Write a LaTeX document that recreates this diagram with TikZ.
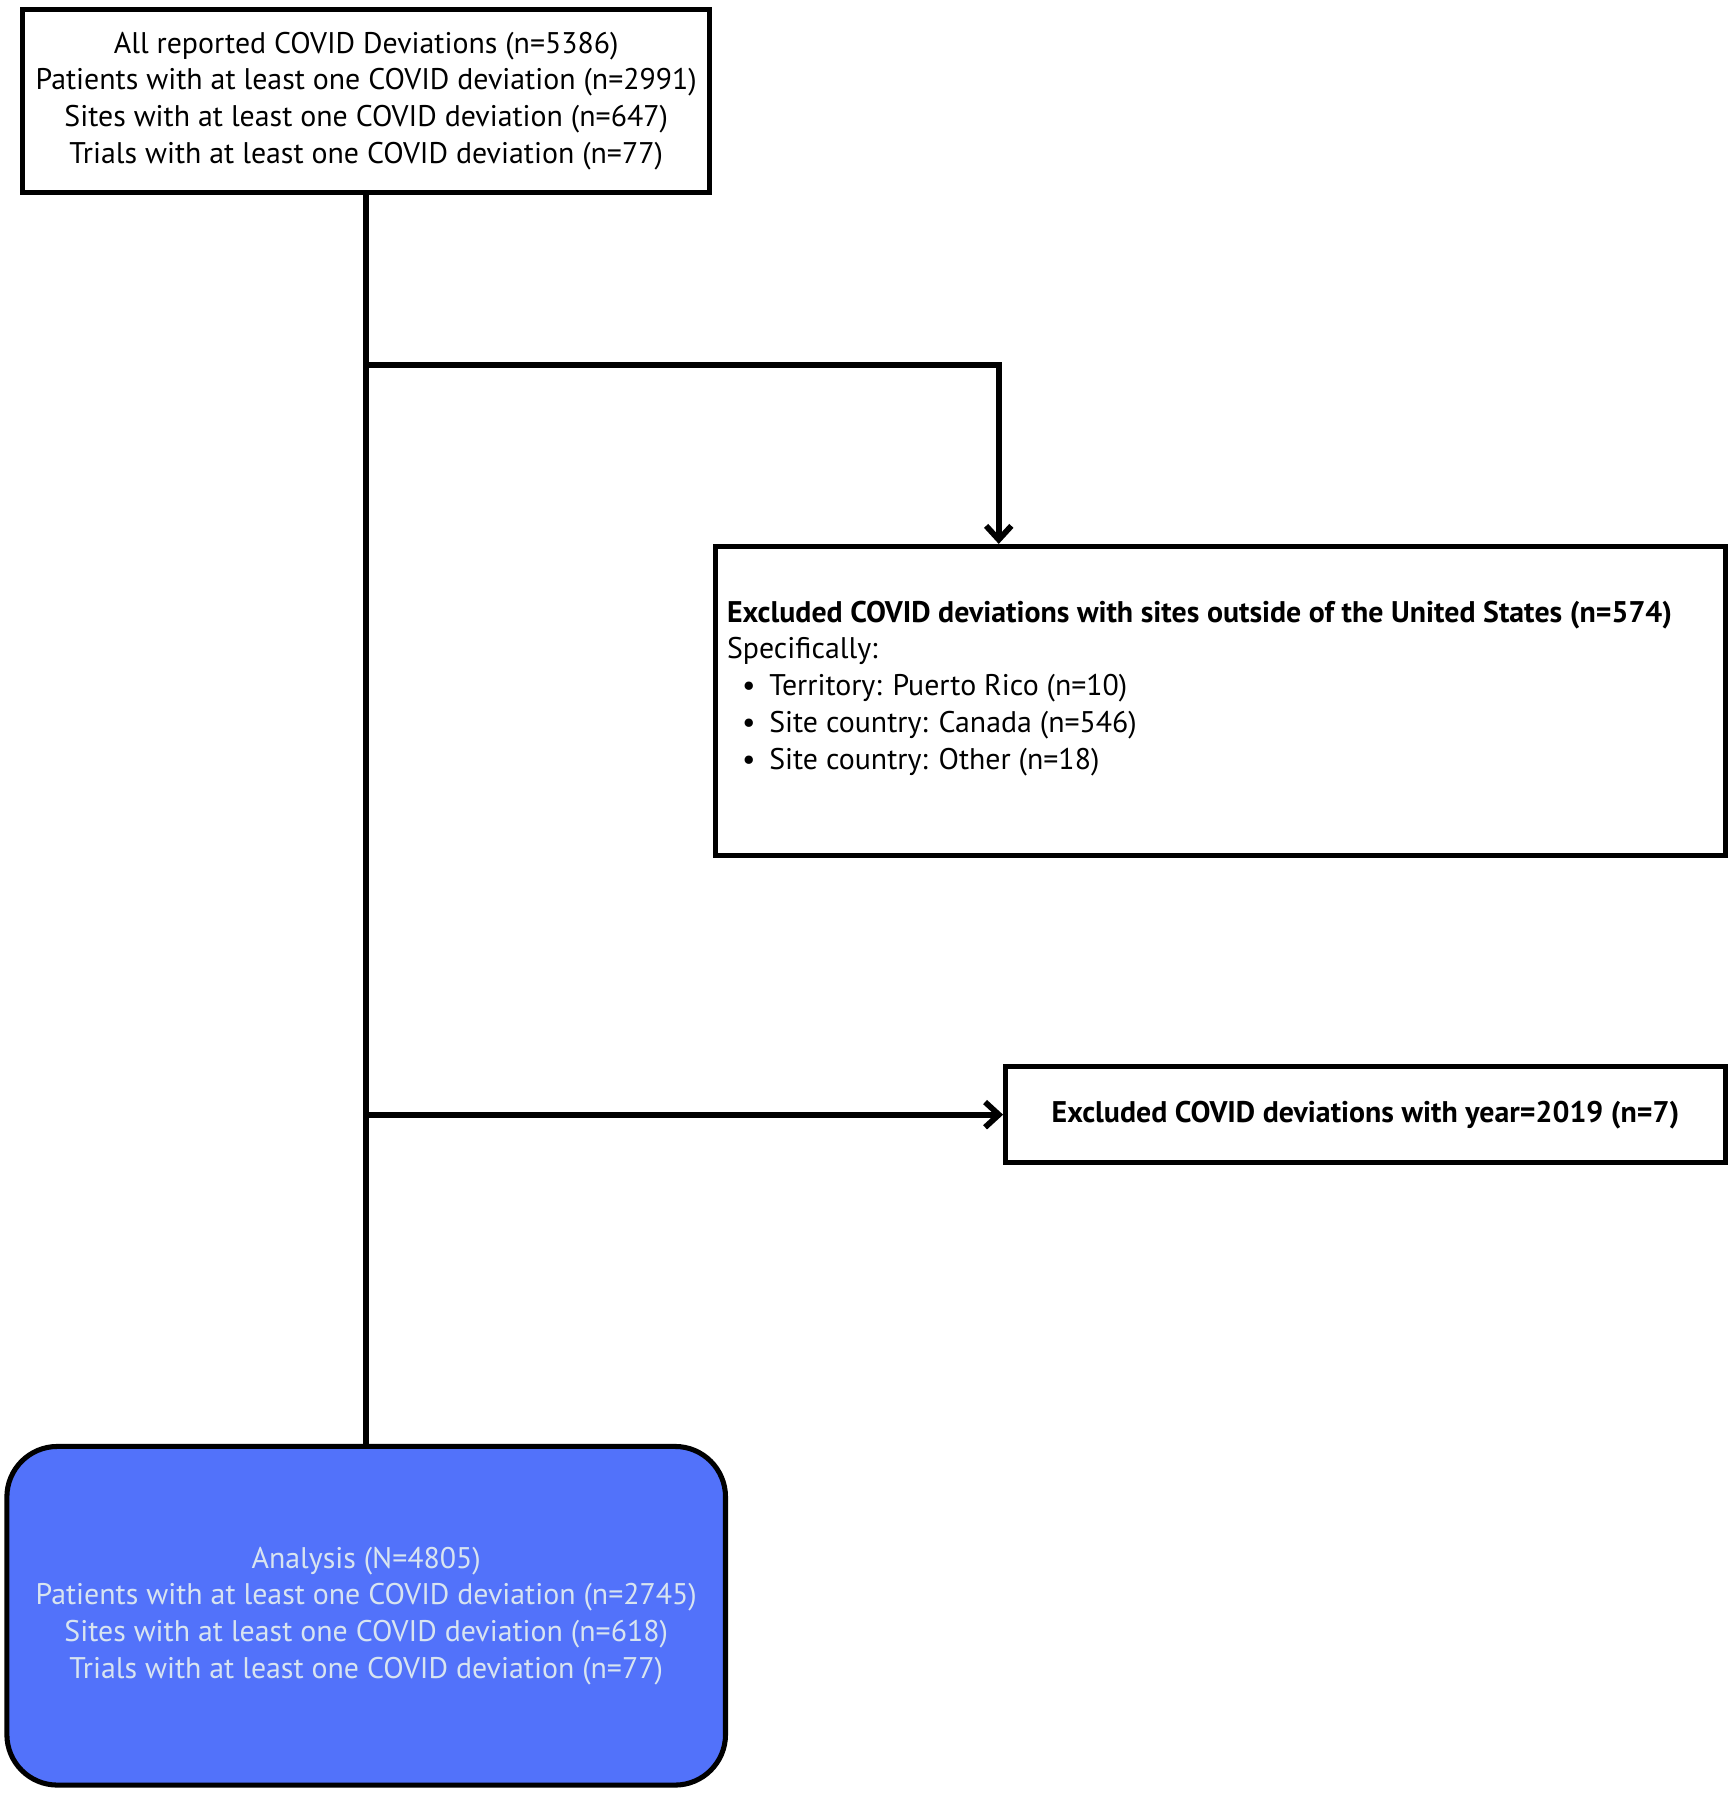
\documentclass[tikz,border=0pt]{standalone}
\usepackage{fontspec}
\setmainfont{PT Sans}
\usepackage{tikz}
\usepackage{xcolor}
\usetikzlibrary{positioning}
\usetikzlibrary{arrows.meta}
\definecolor{analysisblue}{HTML}{5272FA}
\definecolor{analysistext}{HTML}{D8E4F0}
\tikzset{flowbox/.style={draw, line width=2.2pt, inner sep=0pt, align=center,
font=\fontsize{13}{16}\selectfont},
flowline/.style={line width=2.5pt},
flowarrow/.style={flowline, -{Straight Barb[length=6pt, width=11pt]}}}

\begin{document}
\begin{tikzpicture}[x=0.5pt, y=-0.5pt]
\useasboundingbox (0,0) rectangle (1512,1568);
% boxes
\node[flowbox, minimum width=299pt, minimum height=80pt] (all) at (319,88)
  {All reported COVID Deviations (n=5386)\\
   Patients with at least one COVID deviation (n=2991)\\
   Sites with at least one COVID deviation (n=647)\\
   Trials with at least one COVID deviation (n=77)};
\node[flowbox, minimum width=440pt, minimum height=134.5pt] (excl) at (1063,610.5) {};
\node[inner sep=0pt, anchor=north west, align=left,
  font=\fontsize{13}{16}\selectfont] (excltext) at (633,523)
  {\textbf{Excluded COVID deviations with sites outside of the United States (n=574)}\\
   Specifically:\\
   \hspace*{6.5pt}\textbullet\hspace{6pt}Territory: Puerto Rico (n=10)\\
   \hspace*{6.5pt}\textbullet\hspace{6pt}Site country: Canada (n=546)\\
   \hspace*{6.5pt}\textbullet\hspace{6pt}Site country: Other (n=18)};
\node[flowbox, minimum width=313.5pt, minimum height=42pt] (year) at (1189.5,971)
  {\textbf{Excluded COVID deviations with year=2019 (n=7)}};
\node[flowbox, minimum width=313pt, minimum height=147.5pt, rounded corners=22pt,
  fill=analysisblue, text=analysistext] (analysis) at (319,1407.5)
  {Analysis (N=4805)\\
   Patients with at least one COVID deviation (n=2745)\\
   Sites with at least one COVID deviation (n=618)\\
   Trials with at least one COVID deviation (n=77)};
% connectors
\coordinate (split1) at (319,318);
\coordinate (drop) at (870,318);
\coordinate (split2) at (319,971);
\draw[flowline] (all.south) -- (analysis.north);
\draw[flowarrow] (split1) -- (drop) -- (drop |- excl.north);
\draw[flowarrow] (split2) -- (year.west);
\end{tikzpicture}
\end{document}
